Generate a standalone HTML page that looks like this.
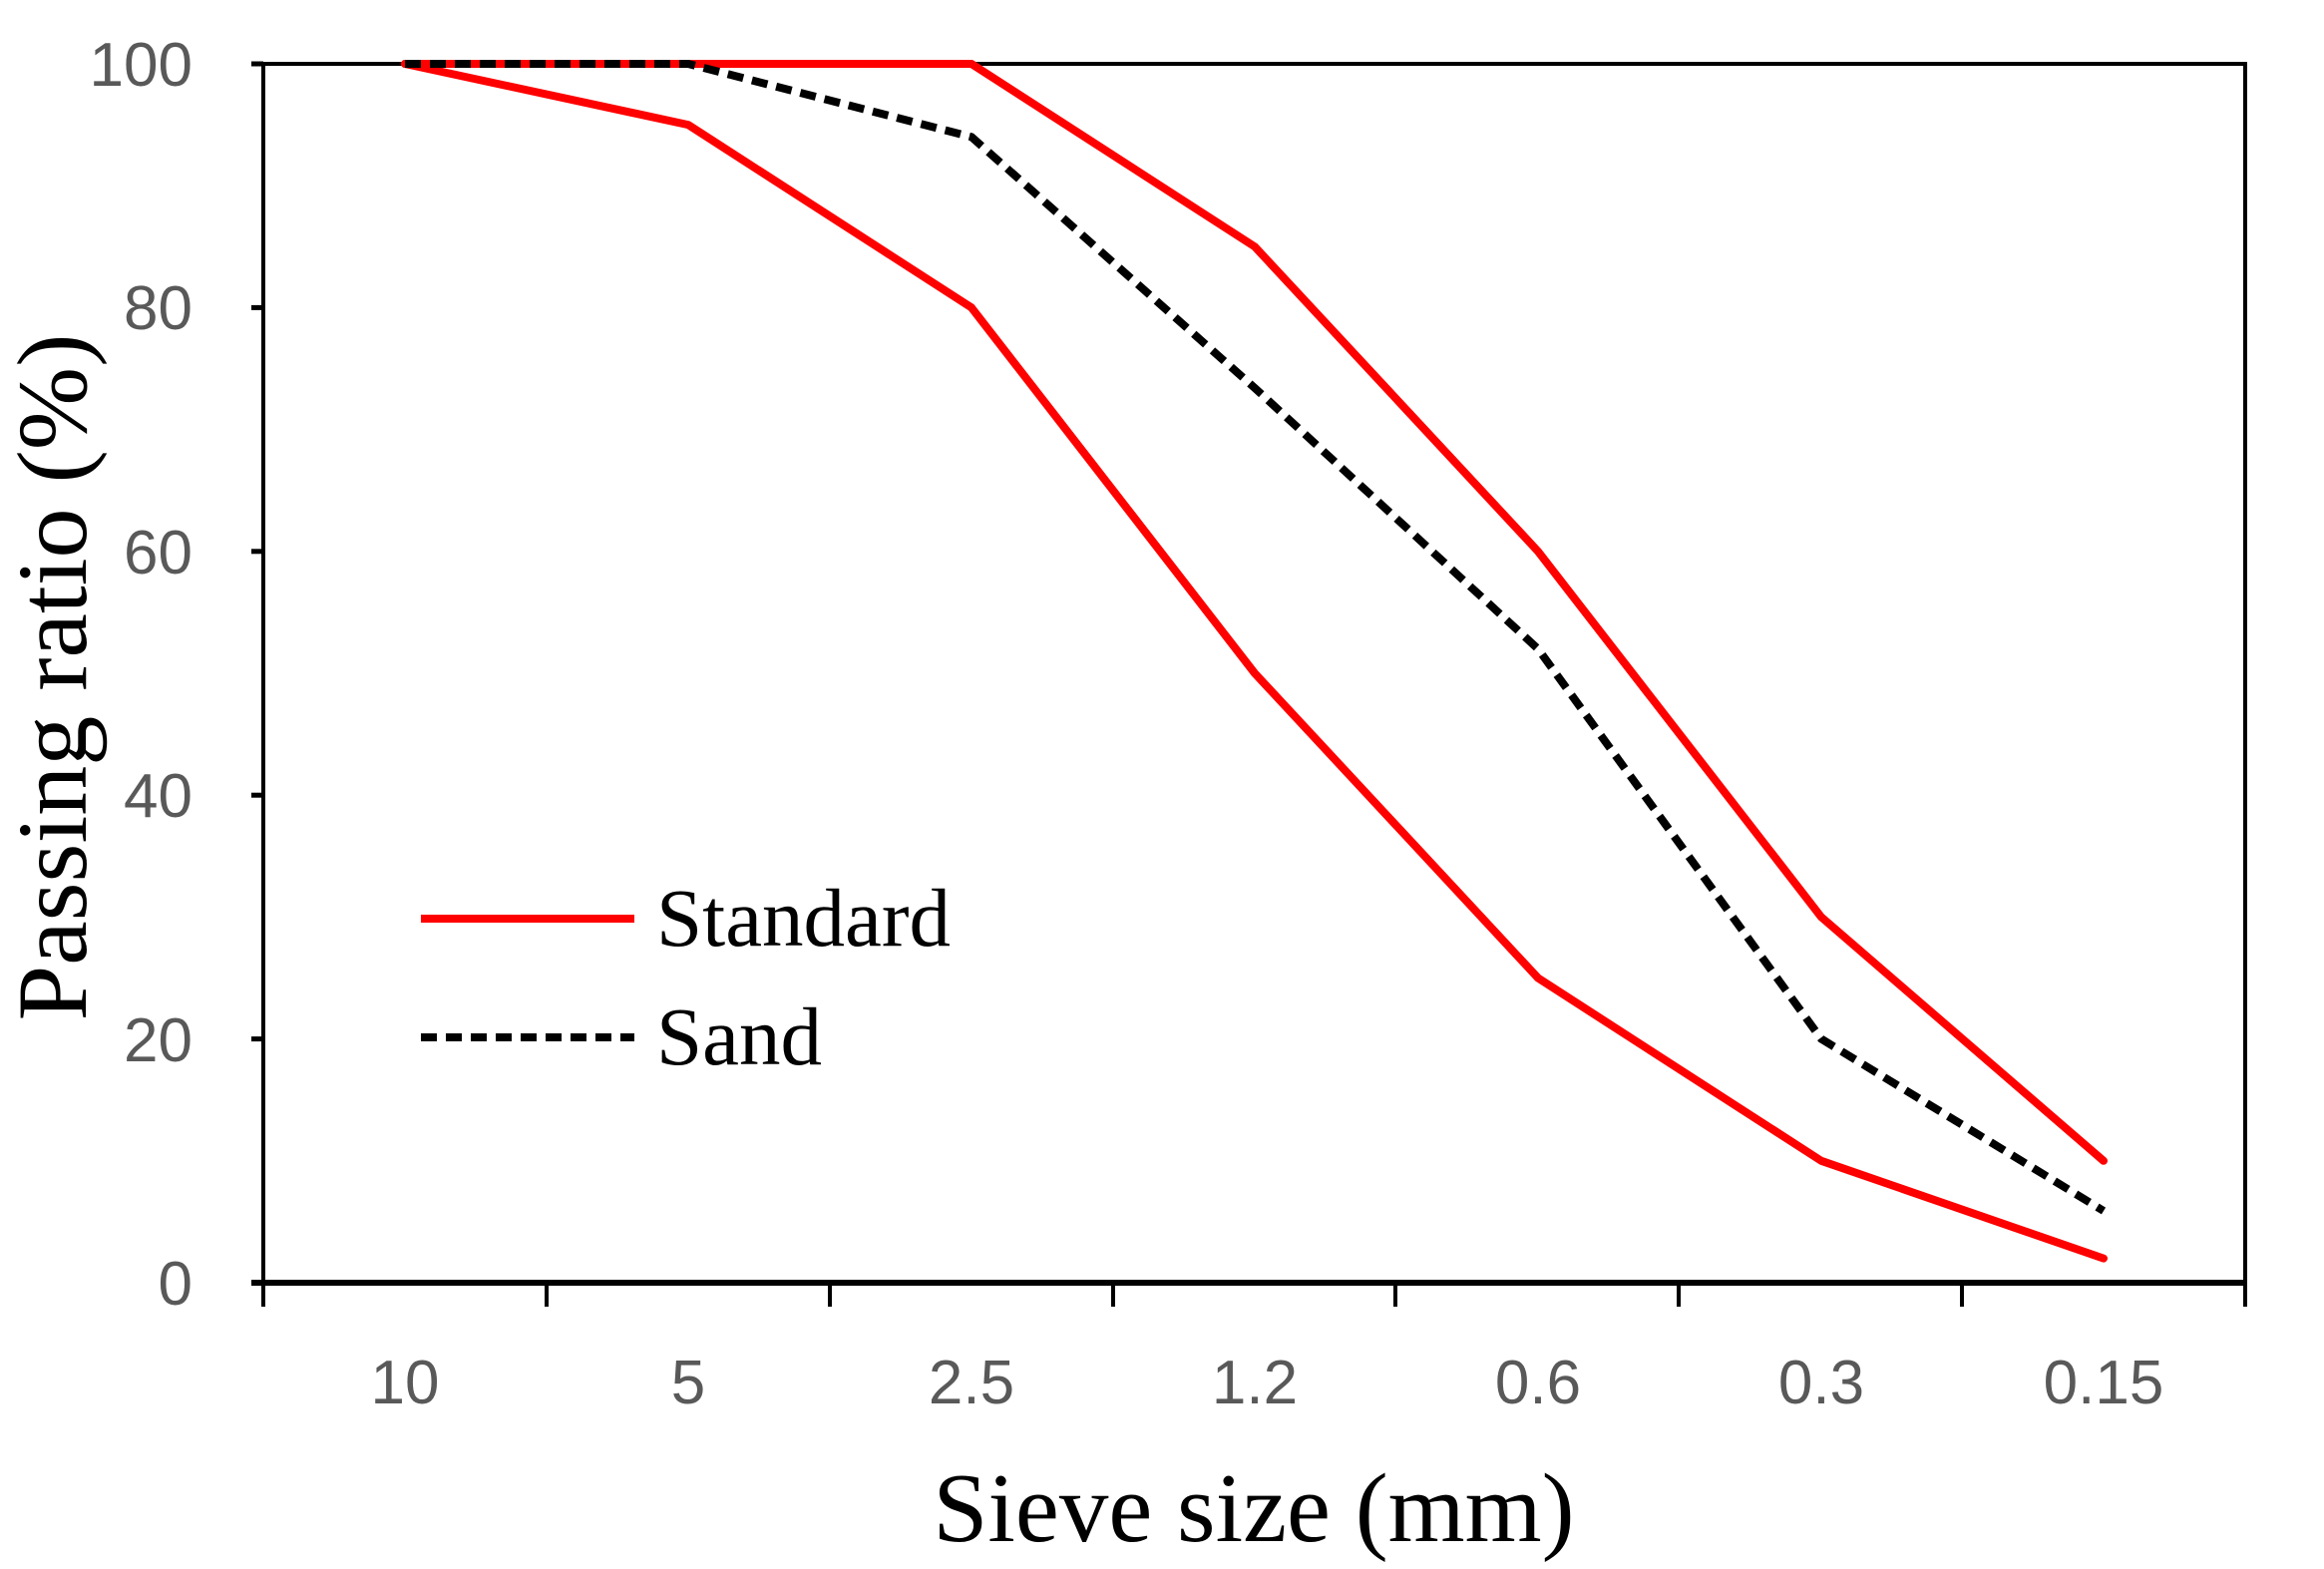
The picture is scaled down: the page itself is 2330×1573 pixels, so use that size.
<!DOCTYPE html>
<html><head><meta charset="utf-8"><style>html,body{margin:0;padding:0;background:#fff}</style></head>
<body>
<svg width="2330" height="1568" viewBox="0 0 2330 1568" xmlns="http://www.w3.org/2000/svg">
<rect width="2330" height="1568" fill="#fff"/>
<rect x="264" y="64" width="1987" height="1222" fill="none" stroke="#000" stroke-width="4"/>
<line x1="252" y1="1286" x2="2253" y2="1286" stroke="#000" stroke-width="6"/>
<g stroke="#000" stroke-width="5">
<line x1="252" y1="64" x2="264" y2="64"/><line x1="252" y1="308.4" x2="264" y2="308.4"/>
<line x1="252" y1="552.8" x2="264" y2="552.8"/><line x1="252" y1="797.2" x2="264" y2="797.2"/>
<line x1="252" y1="1041.6" x2="264" y2="1041.6"/><line x1="252" y1="1286" x2="264" y2="1286"/>
</g>
<g stroke="#000" stroke-width="4">
<line x1="264" y1="1286" x2="264" y2="1310"/><line x1="548" y1="1286" x2="548" y2="1310"/>
<line x1="832" y1="1286" x2="832" y2="1310"/><line x1="1116" y1="1286" x2="1116" y2="1310"/>
<line x1="1399" y1="1286" x2="1399" y2="1310"/><line x1="1683" y1="1286" x2="1683" y2="1310"/>
<line x1="1967" y1="1286" x2="1967" y2="1310"/><line x1="2251" y1="1286" x2="2251" y2="1310"/>
</g>
<g font-family="Liberation Sans, sans-serif" font-size="62" fill="#595959" text-anchor="end">
<text x="193" y="86">100</text><text x="193" y="330">80</text><text x="193" y="575">60</text>
<text x="193" y="819">40</text><text x="193" y="1064">20</text><text x="193" y="1308">0</text>
</g>
<g font-family="Liberation Sans, sans-serif" font-size="62" fill="#595959" text-anchor="middle">
<text x="406" y="1407">10</text><text x="690" y="1407">5</text><text x="974" y="1407">2.5</text>
<text x="1258" y="1407">1.2</text><text x="1542" y="1407">0.6</text><text x="1826" y="1407">0.3</text>
<text x="2109" y="1407">0.15</text>
</g>
<text x="1257" y="1545" font-family="Liberation Serif, serif" font-size="99" text-anchor="middle" fill="#000">Sieve size (mm)</text>
<text transform="translate(86,679) rotate(-90)" font-family="Liberation Serif, serif" font-size="100" text-anchor="middle" fill="#000">Passing ratio (%)</text>
<g fill="none" stroke-linejoin="round" stroke-linecap="round">
<polyline stroke="#ff0000" stroke-width="8" points="406,64 690,64 974,64 1258,247.3 1542,552.8 1826,919.4 2109,1163.8"/>
<polyline stroke="#ff0000" stroke-width="8" points="406,64 690,125.1 974,308.4 1258,675 1542,980.5 1826,1163.8 2109,1261.6"/>
<polyline stroke="#000" stroke-width="8" stroke-linecap="butt" stroke-dasharray="16,9" points="406,64 690,64 974,137.3 1258,389 1542,650.6 1826,1041.6 2109,1214"/>
</g>
<line x1="422" y1="921" x2="636" y2="921" stroke="#ff0000" stroke-width="8"/>
<line x1="422" y1="1040" x2="636" y2="1040" stroke="#000" stroke-width="8" stroke-dasharray="16,9"/>
<g font-family="Liberation Serif, serif" font-size="83" fill="#000">
<text x="658" y="948">Standard</text><text x="658" y="1067">Sand</text>
</g>
</svg>
</body></html>
